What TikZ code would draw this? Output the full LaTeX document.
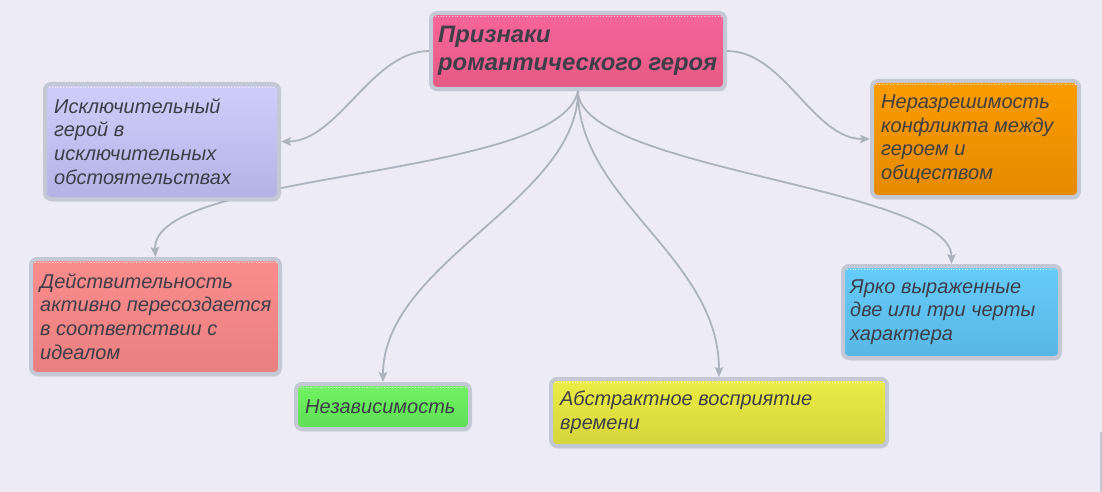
\documentclass[tikz,border=0pt]{standalone}
\usepackage{fontspec}
\setmainfont{Liberation Sans}
\usetikzlibrary{arrows.meta,shadows}
\definecolor{bgc}{HTML}{EDECF6}
\definecolor{bordc}{HTML}{C4C8D4}
\definecolor{linec}{HTML}{ADB3BE}
\definecolor{txtc}{HTML}{3E3E48}
\definecolor{pinkT}{HTML}{F9659A}\definecolor{pinkB}{HTML}{E55A85}
\definecolor{lavT}{HTML}{CFCEFB}\definecolor{lavB}{HTML}{B3B2E4}
\definecolor{salT}{HTML}{FC8C8C}\definecolor{salB}{HTML}{E8807F}
\definecolor{grnT}{HTML}{72F263}\definecolor{grnB}{HTML}{5EDF55}
\definecolor{yelT}{HTML}{ECEC45}\definecolor{yelB}{HTML}{D4D43D}
\definecolor{orT}{HTML}{FB9C00}\definecolor{orB}{HTML}{E58A00}
\definecolor{bluT}{HTML}{66CCFA}\definecolor{bluB}{HTML}{58B6E4}
\pgfdeclarelayer{back}\pgfdeclarelayer{conns}
\pgfsetlayers{back,conns,main}
\begin{document}
\begin{tikzpicture}[x=1pt,y=-1pt,
  box/.style={draw=bordc, line width=4pt, rounded corners=6pt, inner sep=0pt,
    drop shadow={shadow xshift=1pt, shadow yshift=-2.5pt, opacity=0.18, fill=black!60}},
  txt/.style={anchor=west, align=left, inner sep=0pt, text=txtc,
    font=\fontsize{20}{23.7}\selectfont\itshape},
  ttl/.style={anchor=west, align=left, inner sep=0pt, text=txtc,
    font=\fontsize{23.8}{27.5}\selectfont\bfseries\itshape},
  conn/.style={draw=linec, line width=1.8pt, -{Stealth[length=10pt,width=8.5pt,inset=2pt]}},
  hl/.style={draw=white, dotted, line width=0.8pt, opacity=0.75}]
\useasboundingbox (0,0) rectangle (1102,492);
\begin{pgfonlayer}{back}
\fill[bgc] (0,0) rectangle (1102,492);
\fill[bordc] (1100,432) rectangle (1102,492);
\end{pgfonlayer}
% boxes
\node[box, top color=pinkT, bottom color=pinkB, minimum width=294pt, minimum height=76pt] (root) at (578,51) {};
\node[box, top color=lavT, bottom color=lavB, minimum width=234pt, minimum height=115pt] (exc) at (162,141.5) {};
\node[box, top color=salT, bottom color=salB, minimum width=249pt, minimum height=115pt] (real) at (155.5,316.5) {};
\node[box, top color=grnT, bottom color=grnB, minimum width=174pt, minimum height=45pt] (indep) at (383,406.5) {};
\node[box, top color=yelT, bottom color=yelB, minimum width=336pt, minimum height=67pt] (time) at (719,412.5) {};
\node[box, top color=orT, bottom color=orB, minimum width=207pt, minimum height=116pt] (confl) at (975.5,139) {};
\node[box, top color=bluT, bottom color=bluB, minimum width=217pt, minimum height=92pt] (trait) at (951.5,312) {};
% highlight dotted lines
\foreach \n in {root,exc,real,indep,time,confl,trait}{
  \draw[hl] ([shift={(6,5.5)}]\n.north west) -- ([shift={(-6,5.5)}]\n.north east);
}
% texts
\node[ttl] (troot) at ([xshift=9pt]root.west) {Признаки\\романтического героя};
\node[txt] (texc) at ([xshift=11pt]exc.west) {Исключительный\\герой в\\исключительных\\обстоятельствах};
\node[txt] (treal) at ([xshift=11pt]real.west) {Действительность\\активно пересоздается\\в соответствии с\\идеалом};
\node[txt] (tindep) at ([xshift=11pt]indep.west) {Независимость};
\node[txt] (ttime) at ([xshift=11pt]time.west) {Абстрактное восприятие\\времени};
\node[txt] (tconfl) at ([xshift=11pt]confl.west) {Неразрешимость\\конфликта между\\героем и\\обществом};
\node[txt] (ttrait) at ([xshift=9pt]trait.west) {Ярко выраженные\\две или три черты\\характера};
% connectors
\begin{pgfonlayer}{conns}
\draw[conn] (root.west) .. controls +(-57,0) and +(57,0) .. (exc.east);
\draw[conn] (root.east) .. controls +(57,0) and +(-57,0) .. (confl.west);
\draw[conn] (root.south) .. controls +(-18,89) and +(-5,-87) .. (real.north);
\draw[conn] (root.south) .. controls +(0,109) and +(0,-120) .. (indep.north);
\draw[conn] (root.south) .. controls +(0,109) and +(0,-120) .. (time.north);
\draw[conn] (root.south) .. controls +(0,79) and +(0,-77) .. (trait.north);
\end{pgfonlayer}
\end{tikzpicture}
\end{document}
